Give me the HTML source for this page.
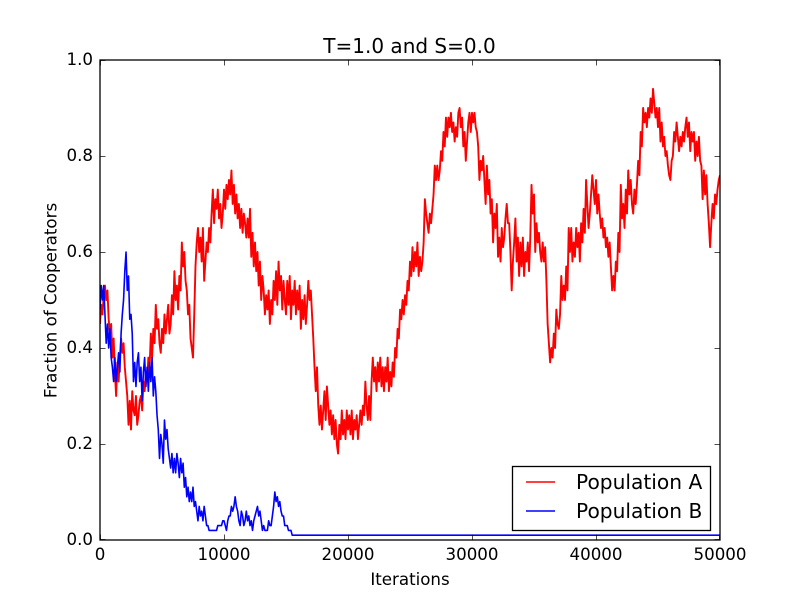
<!DOCTYPE html>
<html>
<head>
<meta charset="utf-8">
<title>T=1.0 and S=0.0</title>
<style>
html,body{margin:0;padding:0;background:#fff;width:800px;height:600px;overflow:hidden}
svg{display:block}
text{font-family:"DejaVu Sans",sans-serif;fill:#000}
</style>
</head>
<body>
<svg id="chart" xmlns="http://www.w3.org/2000/svg" width="800" height="600" viewBox="0 0 800 600">
<defs><clipPath id="plot-clip"><rect x="100" y="60" width="620" height="480"/></clipPath></defs>
<rect x="0" y="0" width="800" height="600" fill="#fff"/>
<g id="series" clip-path="url(#plot-clip)"></g>
<g id="ticks"></g>
<rect x="100" y="60" width="620" height="480" fill="none" stroke="#000" stroke-width="1.3"/>
<text x="409.5" y="53" font-size="20" text-anchor="middle">T=1.0 and S=0.0</text>
<text x="410" y="585" font-size="16.67" text-anchor="middle">Iterations</text>
<text x="0" y="0" font-size="16.67" text-anchor="middle" transform="translate(56.5,300.5) rotate(-90)">Fraction of Cooperators</text>
<g>
<rect x="512.5" y="466.5" width="198" height="64" fill="#fff" stroke="#000" stroke-width="1.3"/>
<line x1="526" x2="555" y1="482" y2="482" stroke="#f00" stroke-width="1.39"/>
<text x="576" y="489" font-size="20.2">Population A</text>
<line x1="526" x2="555" y1="511" y2="511" stroke="#00f" stroke-width="1.39"/>
<text x="576" y="518" font-size="20.2">Population B</text>
</g>
</svg>
<script>
const xTickValues = [0, 10000, 20000, 30000, 40000, 50000];
const yTickValues = [0.0, 0.2, 0.4, 0.6, 0.8, 1.0];
const sampleInterval = 100;
const populationA = [
.45,.49,.47,.51,.53,.50,.52,.46,.43,.45,
.38,.42,.35,.30,.37,.33,.38,.42,.39,.41,
.36,.33,.30,.24,.29,.23,.31,.27,.26,.30,
.24,.26,.29,.30,.27,.33,.31,.35,.33,.38,
.36,.43,.38,.44,.41,.49,.44,.46,.41,.39,
.44,.41,.47,.43,.46,.49,.43,.45,.51,.47,
.56,.50,.53,.48,.55,.52,.62,.57,.60,.54,
.52,.47,.49,.42,.40,.38,.47,.57,.62,.65,
.60,.63,.58,.65,.54,.58,.62,.60,.65,.62,
.68,.73,.66,.71,.69,.73,.67,.70,.65,.68,
.73,.69,.74,.71,.75,.72,.77,.70,.74,.68,
.72,.67,.70,.65,.69,.64,.68,.66,.63,.67,
.63,.69,.59,.64,.57,.62,.56,.60,.53,.58,
.50,.55,.52,.47,.51,.48,.52,.45,.50,.47,
.54,.50,.56,.49,.58,.52,.55,.48,.54,.50,
.47,.54,.49,.55,.46,.52,.49,.54,.47,.52,
.48,.53,.44,.50,.46,.51,.45,.49,.54,.50,
.52,.47,.42,.36,.31,.36,.28,.24,.28,.23,
.27,.31,.25,.32,.28,.24,.27,.22,.26,.21,
.25,.20,.18,.24,.21,.27,.22,.25,.21,.27,
.23,.26,.22,.27,.21,.25,.23,.26,.21,.24,
.27,.24,.28,.26,.33,.28,.25,.30,.25,.33,
.38,.33,.36,.31,.37,.33,.38,.32,.36,.31,
.36,.33,.38,.31,.35,.32,.37,.34,.40,.38,
.44,.42,.48,.46,.50,.47,.51,.49,.54,.52,
.58,.55,.61,.56,.60,.57,.62,.55,.59,.56,
.58,.62,.71,.68,.66,.64,.68,.66,.69,.72,
.78,.75,.78,.75,.77,.81,.79,.85,.82,.88,
.84,.88,.86,.89,.85,.87,.83,.86,.84,.89,
.90,.86,.88,.82,.85,.79,.83,.87,.89,.85,
.89,.87,.89,.86,.85,.82,.75,.79,.77,.80,
.75,.70,.78,.72,.75,.68,.71,.62,.68,.65,
.70,.59,.63,.58,.65,.61,.63,.67,.70,.66,
.66,.60,.52,.58,.62,.67,.58,.63,.55,.62,
.57,.63,.55,.60,.58,.62,.56,.63,.74,.68,
.72,.60,.66,.62,.64,.60,.58,.62,.58,.61,
.54,.45,.41,.37,.40,.38,.43,.40,.48,.45,
.44,.47,.55,.50,.53,.50,.57,.52,.65,.60,
.65,.58,.62,.59,.65,.61,.64,.58,.66,.62,
.69,.64,.75,.70,.65,.68,.72,.76,.73,.70,
.75,.68,.72,.68,.65,.67,.63,.65,.61,.63,
.59,.62,.57,.52,.55,.52,.58,.56,.64,.60,
.74,.67,.70,.65,.73,.68,.77,.72,.75,.70,
.68,.73,.70,.74,.79,.76,.85,.82,.90,.87,
.89,.86,.90,.88,.92,.89,.94,.91,.88,.90,
.86,.90,.83,.87,.82,.84,.80,.81,.78,.76,
.75,.79,.80,.85,.83,.87,.84,.81,.84,.82,
.85,.83,.86,.88,.84,.87,.81,.85,.83,.85,
.79,.83,.80,.84,.79,.78,.71,.77,.72,.76,
.70,.66,.61,.66,.70,.67,.72,.70,.73,.75,
.76];
const populationB = [
.48,.53,.50,.53,.47,.41,.45,.40,.44,.38,
.36,.33,.38,.33,.36,.39,.35,.43,.47,.50,
.56,.60,.52,.55,.46,.47,.43,.33,.37,.32,
.37,.39,.33,.36,.29,.35,.38,.32,.36,.31,
.37,.33,.38,.30,.34,.31,.26,.23,.17,.22,
.20,.16,.25,.21,.23,.19,.17,.15,.18,.14,
.17,.14,.18,.16,.13,.17,.14,.16,.11,.13,
.09,.11,.08,.10,.08,.11,.07,.08,.06,.04,
.07,.05,.06,.04,.07,.05,.03,.03,.02,.02,
.02,.02,.02,.02,.02,.03,.03,.03,.03,.04,
.04,.03,.02,.04,.05,.05,.07,.06,.07,.09,
.07,.06,.04,.03,.06,.05,.03,.04,.06,.04,
.05,.03,.04,.02,.04,.05,.06,.07,.05,.06,
.04,.02,.03,.02,.02,.02,.04,.03,.03,.05,
.07,.10,.08,.09,.07,.08,.06,.05,.05,.03,
.03,.03,.02,.02,.02,.01];
const populationBFinalIteration = 50000;
const populationBFinalValue = 0.01;

const NS = 'http://www.w3.org/2000/svg';
const xMin = 0, xMax = 50000, yMin = 0, yMax = 1;
const plotLeft = 100, plotRight = 720, plotTop = 60, plotBottom = 540;
function xScale(v) { return plotLeft + (v - xMin) / (xMax - xMin) * (plotRight - plotLeft); }
function yScale(v) { return plotBottom - (v - yMin) / (yMax - yMin) * (plotBottom - plotTop); }

function seriesPath(values) {
  return values.map((v, i) => (i ? 'L' : 'M') + xScale(i * sampleInterval).toFixed(2) + ' ' + yScale(v).toFixed(2)).join('');
}

const seriesGroup = document.getElementById('series');

const lineA = document.createElementNS(NS, 'path');


lineA.setAttribute('d', seriesPath(populationA));
lineA.setAttribute('fill', 'none');
lineA.setAttribute('stroke', '#f00');
lineA.setAttribute('stroke-width', '1.9');
lineA.setAttribute('stroke-linejoin', 'round');
seriesGroup.appendChild(lineA);

const lineB = document.createElementNS(NS, 'path');


lineB.setAttribute('d', seriesPath(populationB) + 'L' + xScale(populationBFinalIteration).toFixed(2) + ' ' + yScale(populationBFinalValue).toFixed(2));
lineB.setAttribute('fill', 'none');
lineB.setAttribute('stroke', '#00f');
lineB.setAttribute('stroke-width', '1.6');
lineB.setAttribute('stroke-linejoin', 'round');
seriesGroup.appendChild(lineB);

const tickGroup = document.getElementById('ticks');
function addTick(x1, y1, x2, y2) {
  const t = document.createElementNS(NS, 'line');
  
  
  t.setAttribute('x1', x1);
  t.setAttribute('y1', y1);
  t.setAttribute('x2', x2);
  t.setAttribute('y2', y2);
  t.setAttribute('stroke', '#000');
  t.setAttribute('stroke-width', '0.7');
  tickGroup.appendChild(t);
}
xTickValues.forEach(v => {
  const x = Math.round(xScale(v)) + 0.5 - (v === xMax ? 1 : 0);
  addTick(x, plotBottom, x, plotBottom - 5.5);
  addTick(x, plotTop, x, plotTop + 5.5);
  const label = document.createElementNS(NS, 'text');
  
  
  label.setAttribute('x', xScale(v));
  label.setAttribute('y', 560);
  label.setAttribute('font-size', '16.67');
  label.setAttribute('text-anchor', 'middle');
  label.textContent = String(v);
  tickGroup.appendChild(label);
});
yTickValues.forEach(v => {
  const y = Math.round(yScale(v)) + 0.5 - (v === yMin ? 1 : 0);
  addTick(plotLeft, y, plotLeft + 5.5, y);
  addTick(plotRight, y, plotRight - 5.5, y);
  const label = document.createElementNS(NS, 'text');
  
  
  label.setAttribute('x', 93);
  label.setAttribute('y', yScale(v) + 5);
  label.setAttribute('font-size', '16.67');
  label.setAttribute('text-anchor', 'end');
  label.textContent = v.toFixed(1);
  tickGroup.appendChild(label);
});
</script>
</body>
</html>
